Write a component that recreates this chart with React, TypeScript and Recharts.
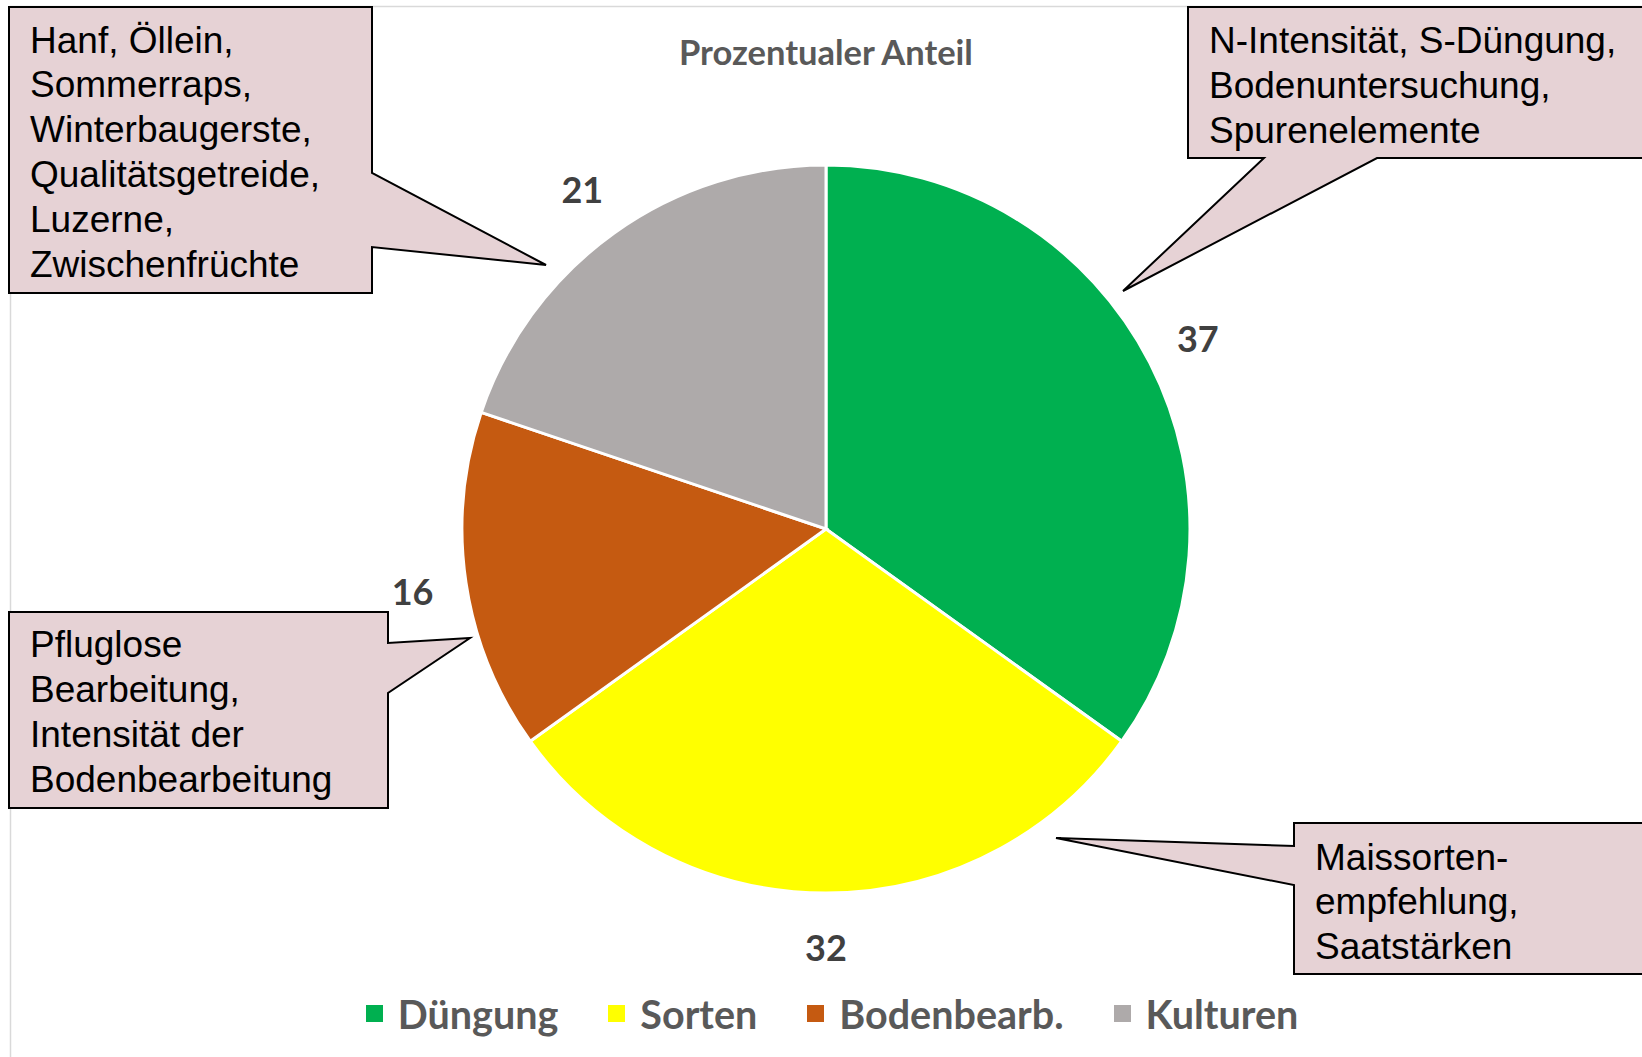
import { PieChart, Pie, Cell, Legend } from 'recharts';

// Werte laut Diagramm (Summe 106, Anteile werden relativ dargestellt)
const kategorien = ['Düngung', 'Sorten', 'Bodenbearb.', 'Kulturen'];
const werte = [37, 32, 16, 21];
const farben = ['#00B050', '#FFFF00', '#C55A11', '#AEAAAA'];

const titel = 'Prozentualer Anteil';

const textDuengung = ['N-Intensität, S-Düngung,', 'Bodenuntersuchung,', 'Spurenelemente'];
const textSorten = ['Maissorten-', 'empfehlung,', 'Saatstärken'];
const textBoden = ['Pfluglose', 'Bearbeitung,', 'Intensität der', 'Bodenbearbeitung'];
const textKulturen = ['Hanf, Öllein,', 'Sommerraps,', 'Winterbaugerste,', 'Qualitätsgetreide,', 'Luzerne,', 'Zwischenfrüchte'];

const data = kategorien.map((name, i) => ({ name, value: werte[i], fill: farben[i] }));

const W = 1642;
const H = 1057;
const CX = 826;
const CY = 529;
const R = 364;
const RAD = Math.PI / 180;

// eslint-disable-next-line @typescript-eslint/no-explicit-any
function WertLabel({ cx, cy, midAngle, value }: any) {
  const r = R + 54;
  const x = cx + r * Math.cos(-midAngle * RAD);
  const y = cy + r * Math.sin(-midAngle * RAD);
  return (
    <text x={x} y={y} textAnchor="middle" dominantBaseline="central"
      fill="#404040" fontFamily="Lato" fontWeight={700} fontSize={36}>
      {value}
    </text>
  );
}

function LegendeInhalt() {
  return (
    <div style={{ display: 'flex', justifyContent: 'center', gap: 50, paddingLeft: 22, fontFamily: 'Lato', fontWeight: 700, fontSize: 39.5, color: '#595959' }}>
      {data.map((d) => (
        <div key={d.name} style={{ display: 'flex', alignItems: 'center' }}>
          <span style={{ width: 17, height: 17, background: d.fill, marginRight: 15, display: 'inline-block' }} />
          <span>{d.name}</span>
        </div>
      ))}
    </div>
  );
}

type Sprechblase = {
  punkte: [number, number][];
  zeilen: string[];
  x: number;
  y0: number;
  dy: number;
};

const blasen: Sprechblase[] = [
  {
    punkte: [[9, 7], [372, 7], [372, 173], [546, 265], [372, 247], [372, 293], [9, 293]],
    zeilen: textKulturen, x: 30, y0: 40, dy: 44.8,
  },
  {
    punkte: [[1188, 7], [1660, 7], [1660, 158], [1377, 158], [1123, 291], [1264, 158], [1188, 158]],
    zeilen: textDuengung, x: 1209, y0: 40, dy: 45,
  },
  {
    punkte: [[9, 612], [388, 612], [388, 643], [470, 638], [388, 693], [388, 808], [9, 808]],
    zeilen: textBoden, x: 30, y0: 644, dy: 45,
  },
  {
    punkte: [[1294, 823], [1660, 823], [1660, 974], [1294, 974], [1294, 885], [1056, 838], [1294, 846]],
    zeilen: textSorten, x: 1315, y0: 857, dy: 44.5,
  },
];

function Sprechblasen() {
  return (
    <svg width={W} height={H} style={{ position: 'absolute', left: 0, top: 0, pointerEvents: 'none' }}>
      {blasen.map((b, i) => (
        <g key={i}>
          <polygon points={b.punkte.map((p) => p.join(',')).join(' ')} fill="#E6D2D5" stroke="#000" strokeWidth={2} strokeLinejoin="miter" />
          {b.zeilen.map((z, j) => (
            <text key={j} x={b.x} y={b.y0 + j * b.dy} dominantBaseline="central"
              fontFamily="'Liberation Sans', Arial" fontSize={37} fill="#000">
              {z}
            </text>
          ))}
        </g>
      ))}
    </svg>
  );
}

export default function App() {
  return (
    <div style={{ position: 'absolute', left: 0, top: 0, width: W, height: H, background: '#fff', overflow: 'hidden' }}>
      <svg width={W} height={H} style={{ position: 'absolute', left: 0, top: 0 }}>
        <rect x={10.5} y={6.5} width={W + 20} height={H + 20} fill="none" stroke="#D9D9D9" strokeWidth={1.5} />
        <text x={CX} y={51} textAnchor="middle" dominantBaseline="central"
          fontFamily="Lato" fontWeight={700} fontSize={34.5} fill="#595959">
          {titel}
        </text>
      </svg>
      <div style={{ position: 'absolute', left: 0, top: 0 }}>
        <PieChart width={W} height={H} margin={{ top: 0, right: 0, bottom: 0, left: 0 }}>
          <Pie
            data={data}
            dataKey="value"
            nameKey="name"
            cx={CX}
            cy={CY}
            outerRadius={R}
            startAngle={90}
            endAngle={-270}
            stroke="#FFFFFF"
            strokeWidth={3}
            label={WertLabel}
            labelLine={false}
            isAnimationActive={false}
          >
            {data.map((d) => (
              <Cell key={d.name} fill={d.fill} />
            ))}
          </Pie>
          <Legend content={<LegendeInhalt />} wrapperStyle={{ left: 0, top: 990, width: W }} />
        </PieChart>
      </div>
      <Sprechblasen />
    </div>
  );
}
